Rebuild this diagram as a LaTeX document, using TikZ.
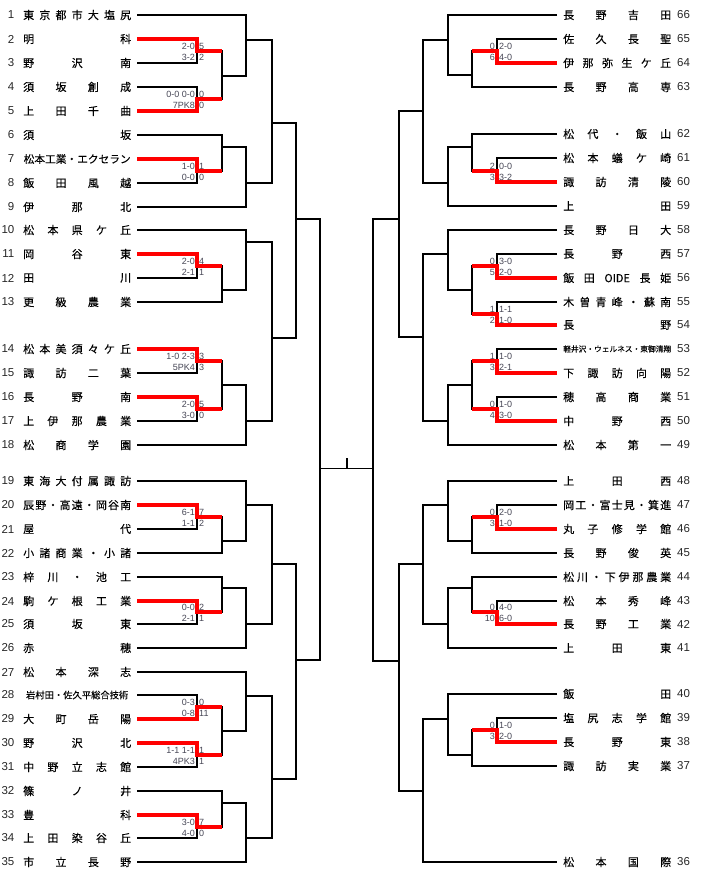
\documentclass[tikz,border=0pt]{standalone}
\usepackage{fontspec}
\setmainfont{Liberation Sans}
\newfontfamily\jfont[FakeBold=0.15]{Noto Sans CJK JP}
\definecolor{scoregray}{RGB}{70,70,85}
\newcommand{\teamname}[1]{\makebox[108pt]{\spaceskip=0pt plus 1fill\relax #1}}

\begin{document}
\begin{tikzpicture}[
  x=1pt, y=-1pt,
  num/.style={font=\fontsize{11.5}{12}\selectfont, text=black!85, inner sep=0pt},
  lnum/.style={num, anchor=east},
  rnum/.style={num, anchor=west},
  team/.style={font=\fontsize{11}{12}\selectfont\jfont, text=black, inner sep=0pt, anchor=west},
  bk/.style={line width=1.2pt},
  win/.style={draw=red, line width=4pt},
  score/.style={font=\fontsize{9}{10}\selectfont, text=scoregray, inner sep=0pt},
  hl/.style={score, anchor=east, xshift=-2pt},
  hr/.style={score, anchor=west, xshift=2pt},
  hi/.style={yshift=5pt},
  lo/.style={yshift=-6pt}
]
\useasboundingbox (0,0) rectangle (702,880);

% ---- Left teams ----
\node[lnum] (k1) at (14.5,15) {1}; \node[team] (n1) at (23,15) {\teamname{東 京 都 市 大 塩 尻}}; \coordinate (p1) at (137,15);
\node[lnum] (k2) at (14.5,39) {2}; \node[team] (n2) at (23,39) {\teamname{明 科}}; \coordinate (p2) at (137,39);
\node[lnum] (k3) at (14.5,63) {3}; \node[team] (n3) at (23,63) {\teamname{野 沢 南}}; \coordinate (p3) at (137,63);
\node[lnum] (k4) at (14.5,87) {4}; \node[team] (n4) at (23,87) {\teamname{須 坂 創 成}}; \coordinate (p4) at (137,87);
\node[lnum] (k5) at (14.5,111) {5}; \node[team] (n5) at (23,111) {\teamname{上 田 千 曲}}; \coordinate (p5) at (137,111);
\node[lnum] (k6) at (14.5,135) {6}; \node[team] (n6) at (23,135) {\teamname{須 坂}}; \coordinate (p6) at (137,135);
\node[lnum] (k7) at (14.5,159) {7}; \node[team] (n7) at (23,159) {\teamname{\fontsize{10.7}{12}\selectfont 松本工業・エクセラン}}; \coordinate (p7) at (137,159);
\node[lnum] (k8) at (14.5,183) {8}; \node[team] (n8) at (23,183) {\teamname{飯 田 風 越}}; \coordinate (p8) at (137,183);
\node[lnum] (k9) at (14.5,207) {9}; \node[team] (n9) at (23,207) {\teamname{伊 那 北}}; \coordinate (p9) at (137,207);
\node[lnum] (k10) at (14.5,230) {10}; \node[team] (n10) at (23,230) {\teamname{松 本 県 ケ 丘}}; \coordinate (p10) at (137,230);
\node[lnum] (k11) at (14.5,254) {11}; \node[team] (n11) at (23,254) {\teamname{岡 谷 東}}; \coordinate (p11) at (137,254);
\node[lnum] (k12) at (14.5,278) {12}; \node[team] (n12) at (23,278) {\teamname{田 川}}; \coordinate (p12) at (137,278);
\node[lnum] (k13) at (14.5,302) {13}; \node[team] (n13) at (23,302) {\teamname{更 級 農 業}}; \coordinate (p13) at (137,302);
\node[lnum] (k14) at (14.5,349) {14}; \node[team] (n14) at (23,349) {\teamname{松 本 美 須 々 ケ 丘}}; \coordinate (p14) at (137,349);
\node[lnum] (k15) at (14.5,373) {15}; \node[team] (n15) at (23,373) {\teamname{諏 訪 二 葉}}; \coordinate (p15) at (137,373);
\node[lnum] (k16) at (14.5,397) {16}; \node[team] (n16) at (23,397) {\teamname{長 野 南}}; \coordinate (p16) at (137,397);
\node[lnum] (k17) at (14.5,421) {17}; \node[team] (n17) at (23,421) {\teamname{上 伊 那 農 業}}; \coordinate (p17) at (137,421);
\node[lnum] (k18) at (14.5,445) {18}; \node[team] (n18) at (23,445) {\teamname{松 商 学 園}}; \coordinate (p18) at (137,445);
\node[lnum] (k19) at (14.5,481) {19}; \node[team] (n19) at (23,481) {\teamname{東 海 大 付 属 諏 訪}}; \coordinate (p19) at (137,481);
\node[lnum] (k20) at (14.5,505) {20}; \node[team] (n20) at (23,505) {\teamname{辰 野 ・ 高 遠 ・ 岡 谷 南}}; \coordinate (p20) at (137,505);
\node[lnum] (k21) at (14.5,529) {21}; \node[team] (n21) at (23,529) {\teamname{屋 代}}; \coordinate (p21) at (137,529);
\node[lnum] (k22) at (14.5,553) {22}; \node[team] (n22) at (23,553) {\teamname{小 諸 商 業 ・ 小 諸}}; \coordinate (p22) at (137,553);
\node[lnum] (k23) at (14.5,577) {23}; \node[team] (n23) at (23,577) {\teamname{梓 川 ・ 池 工}}; \coordinate (p23) at (137,577);
\node[lnum] (k24) at (14.5,601) {24}; \node[team] (n24) at (23,601) {\teamname{駒 ケ 根 工 業}}; \coordinate (p24) at (137,601);
\node[lnum] (k25) at (14.5,624) {25}; \node[team] (n25) at (23,624) {\teamname{須 坂 東}}; \coordinate (p25) at (137,624);
\node[lnum] (k26) at (14.5,648) {26}; \node[team] (n26) at (23,648) {\teamname{赤 穂}}; \coordinate (p26) at (137,648);
\node[lnum] (k27) at (14.5,672) {27}; \node[team] (n27) at (23,672) {\teamname{松 本 深 志}}; \coordinate (p27) at (137,672);
\node[lnum] (k28) at (14.5,695) {28}; \node[team] (n28) at (23,695) {\teamname{\fontsize{9.3}{11}\selectfont 岩村田・佐久平総合技術}}; \coordinate (p28) at (137,695);
\node[lnum] (k29) at (14.5,719) {29}; \node[team] (n29) at (23,719) {\teamname{大 町 岳 陽}}; \coordinate (p29) at (137,719);
\node[lnum] (k30) at (14.5,743) {30}; \node[team] (n30) at (23,743) {\teamname{野 沢 北}}; \coordinate (p30) at (137,743);
\node[lnum] (k31) at (14.5,767) {31}; \node[team] (n31) at (23,767) {\teamname{中 野 立 志 館}}; \coordinate (p31) at (137,767);
\node[lnum] (k32) at (14.5,791) {32}; \node[team] (n32) at (23,791) {\teamname{篠 ノ 井}}; \coordinate (p32) at (137,791);
\node[lnum] (k33) at (14.5,815) {33}; \node[team] (n33) at (23,815) {\teamname{豊 科}}; \coordinate (p33) at (137,815);
\node[lnum] (k34) at (14.5,838) {34}; \node[team] (n34) at (23,838) {\teamname{上 田 染 谷 丘}}; \coordinate (p34) at (137,838);
\node[lnum] (k35) at (14.5,862) {35}; \node[team] (n35) at (23,862) {\teamname{市 立 長 野}}; \coordinate (p35) at (137,862);

% ---- Right teams ----
\node[rnum] (k66) at (677,15) {66}; \node[team] (n66) at (563,15) {\teamname{長 野 吉 田}}; \coordinate (p66) at (557,15);
\node[rnum] (k65) at (677,39) {65}; \node[team] (n65) at (563,39) {\teamname{佐 久 長 聖}}; \coordinate (p65) at (557,39);
\node[rnum] (k64) at (677,63) {64}; \node[team] (n64) at (563,63) {\teamname{伊 那 弥 生 ケ 丘}}; \coordinate (p64) at (557,63);
\node[rnum] (k63) at (677,87) {63}; \node[team] (n63) at (563,87) {\teamname{長 野 高 専}}; \coordinate (p63) at (557,87);
\node[rnum] (k62) at (677,134) {62}; \node[team] (n62) at (563,134) {\teamname{松 代 ・ 飯 山}}; \coordinate (p62) at (557,134);
\node[rnum] (k61) at (677,158) {61}; \node[team] (n61) at (563,158) {\teamname{松 本 蟻 ケ 崎}}; \coordinate (p61) at (557,158);
\node[rnum] (k60) at (677,182) {60}; \node[team] (n60) at (563,182) {\teamname{諏 訪 清 陵}}; \coordinate (p60) at (557,182);
\node[rnum] (k59) at (677,206) {59}; \node[team] (n59) at (563,206) {\teamname{上 田}}; \coordinate (p59) at (557,206);
\node[rnum] (k58) at (677,230) {58}; \node[team] (n58) at (563,230) {\teamname{長 野 日 大}}; \coordinate (p58) at (557,230);
\node[rnum] (k57) at (677,254) {57}; \node[team] (n57) at (563,254) {\teamname{長 野 西}}; \coordinate (p57) at (557,254);
\node[rnum] (k56) at (677,278) {56}; \node[team] (n56) at (563,278) {\teamname{飯 田 OIDE 長 姫}}; \coordinate (p56) at (557,278);
\node[rnum] (k55) at (677,302) {55}; \node[team] (n55) at (563,302) {\teamname{木 曽 青 峰 ・ 蘇 南}}; \coordinate (p55) at (557,302);
\node[rnum] (k54) at (677,325) {54}; \node[team] (n54) at (563,325) {\teamname{長 野}}; \coordinate (p54) at (557,325);
\node[rnum] (k53) at (677,349) {53}; \node[team] (n53) at (563,349) {\teamname{\fontsize{7.7}{9}\selectfont 軽井沢・ウェルネス・東御清翔}}; \coordinate (p53) at (557,349);
\node[rnum] (k52) at (677,373) {52}; \node[team] (n52) at (563,373) {\teamname{下 諏 訪 向 陽}}; \coordinate (p52) at (557,373);
\node[rnum] (k51) at (677,397) {51}; \node[team] (n51) at (563,397) {\teamname{穂 高 商 業}}; \coordinate (p51) at (557,397);
\node[rnum] (k50) at (677,421) {50}; \node[team] (n50) at (563,421) {\teamname{中 野 西}}; \coordinate (p50) at (557,421);
\node[rnum] (k49) at (677,445) {49}; \node[team] (n49) at (563,445) {\teamname{松 本 第 一}}; \coordinate (p49) at (557,445);
\node[rnum] (k48) at (677,481) {48}; \node[team] (n48) at (563,481) {\teamname{上 田 西}}; \coordinate (p48) at (557,481);
\node[rnum] (k47) at (677,505) {47}; \node[team] (n47) at (563,505) {\teamname{岡 工 ・ 富 士 見 ・ 箕 進}}; \coordinate (p47) at (557,505);
\node[rnum] (k46) at (677,529) {46}; \node[team] (n46) at (563,529) {\teamname{丸 子 修 学 館}}; \coordinate (p46) at (557,529);
\node[rnum] (k45) at (677,553) {45}; \node[team] (n45) at (563,553) {\teamname{長 野 俊 英}}; \coordinate (p45) at (557,553);
\node[rnum] (k44) at (677,577) {44}; \node[team] (n44) at (563,577) {\teamname{松 川 ・ 下 伊 那 農 業}}; \coordinate (p44) at (557,577);
\node[rnum] (k43) at (677,601) {43}; \node[team] (n43) at (563,601) {\teamname{松 本 秀 峰}}; \coordinate (p43) at (557,601);
\node[rnum] (k42) at (677,624) {42}; \node[team] (n42) at (563,624) {\teamname{長 野 工 業}}; \coordinate (p42) at (557,624);
\node[rnum] (k41) at (677,648) {41}; \node[team] (n41) at (563,648) {\teamname{上 田 東}}; \coordinate (p41) at (557,648);
\node[rnum] (k40) at (677,694) {40}; \node[team] (n40) at (563,694) {\teamname{飯 田}}; \coordinate (p40) at (557,694);
\node[rnum] (k39) at (677,718) {39}; \node[team] (n39) at (563,718) {\teamname{塩 尻 志 学 館}}; \coordinate (p39) at (557,718);
\node[rnum] (k38) at (677,742) {38}; \node[team] (n38) at (563,742) {\teamname{長 野 東}}; \coordinate (p38) at (557,742);
\node[rnum] (k37) at (677,766) {37}; \node[team] (n37) at (563,766) {\teamname{諏 訪 実 業}}; \coordinate (p37) at (557,766);
\node[rnum] (k36) at (677,862) {36}; \node[team] (n36) at (563,862) {\teamname{松 本 国 際}}; \coordinate (p36) at (557,862);

% ---- Left bracket joints ----
\coordinate (a23) at (197,51);   \coordinate (a45) at (197,99);
\coordinate (a78) at (197,171);  \coordinate (a1112) at (197,266);
\coordinate (a1415) at (197,361); \coordinate (a1617) at (197,409);
\coordinate (a2021) at (197,517); \coordinate (a2425) at (197,612);
\coordinate (a2829) at (197,707); \coordinate (a3031) at (197,755);
\coordinate (a3334) at (197,827);
\coordinate (b2) at (222,76);    \coordinate (b6) at (222,147);
\coordinate (b11) at (222,290);  \coordinate (b14) at (222,385);
\coordinate (b20) at (222,541);  \coordinate (b23) at (222,588);
\coordinate (b28) at (222,731);  \coordinate (b32) at (222,803);
\coordinate (c1) at (246,40);    \coordinate (c6) at (246,183);
\coordinate (c10) at (246,242);  \coordinate (c14) at (246,421);
\coordinate (c19) at (246,505);  \coordinate (c23) at (246,624);
\coordinate (c27) at (246,696);  \coordinate (c32) at (246,838);
\coordinate (d1) at (272,123);   \coordinate (d10) at (272,338);
\coordinate (d19) at (272,564);  \coordinate (d27) at (272,779);
\coordinate (e1) at (296,219);   \coordinate (e19) at (296,660);
\coordinate (fL) at (320,468);

% ---- Right bracket joints ----
\coordinate (ra6564) at (497,51);  \coordinate (ra6160) at (497,171);
\coordinate (ra5756) at (497,266); \coordinate (ra5554) at (497,314);
\coordinate (ra5352) at (497,361); \coordinate (ra5150) at (497,409);
\coordinate (ra4746) at (497,517); \coordinate (ra4342) at (497,612);
\coordinate (ra3938) at (497,730);
\coordinate (rb64) at (472,75);   \coordinate (rb62) at (472,147);
\coordinate (rb56) at (472,290);  \coordinate (rb52) at (472,385);
\coordinate (rb46) at (472,541);  \coordinate (rb44) at (472,588);
\coordinate (rb38) at (472,755);
\coordinate (rc66) at (448,40);   \coordinate (rc62) at (448,183);
\coordinate (rc58) at (448,254);  \coordinate (rc52) at (448,421);
\coordinate (rc48) at (448,505);  \coordinate (rc44) at (448,624);
\coordinate (rc40) at (448,719);
\coordinate (rd66) at (423,111);  \coordinate (rd58) at (423,337);
\coordinate (rd48) at (423,564);  \coordinate (rd40) at (423,791);
\coordinate (re66) at (399,219);  \coordinate (re48) at (399,661);
\coordinate (fR) at (373,468);
\coordinate (champ) at (347,458);

% ---- Left brackets ----
\draw[bk] (p2) -- (p2 -| a23) -- (p3 -| a23) -- (p3);
\draw[bk] (p4) -- (p4 -| a45) -- (p5 -| a45) -- (p5);
\draw[bk] (p7) -- (p7 -| a78) -- (p8 -| a78) -- (p8);
\draw[bk] (p11) -- (p11 -| a1112) -- (p12 -| a1112) -- (p12);
\draw[bk] (p14) -- (p14 -| a1415) -- (p15 -| a1415) -- (p15);
\draw[bk] (p16) -- (p16 -| a1617) -- (p17 -| a1617) -- (p17);
\draw[bk] (p20) -- (p20 -| a2021) -- (p21 -| a2021) -- (p21);
\draw[bk] (p24) -- (p24 -| a2425) -- (p25 -| a2425) -- (p25);
\draw[bk] (p28) -- (p28 -| a2829) -- (p29 -| a2829) -- (p29);
\draw[bk] (p30) -- (p30 -| a3031) -- (p31 -| a3031) -- (p31);
\draw[bk] (p33) -- (p33 -| a3334) -- (p34 -| a3334) -- (p34);

\draw[bk] (a23) -- (a23 -| b2) -- (a45 -| b2) -- (a45);
\draw[bk] (p6) -- (p6 -| b6) -- (a78 -| b6) -- (a78);
\draw[bk] (a1112) -- (a1112 -| b11) -- (p13 -| b11) -- (p13);
\draw[bk] (a1415) -- (a1415 -| b14) -- (a1617 -| b14) -- (a1617);
\draw[bk] (a2021) -- (a2021 -| b20) -- (p22 -| b20) -- (p22);
\draw[bk] (p23) -- (p23 -| b23) -- (a2425 -| b23) -- (a2425);
\draw[bk] (a2829) -- (a2829 -| b28) -- (a3031 -| b28) -- (a3031);
\draw[bk] (p32) -- (p32 -| b32) -- (a3334 -| b32) -- (a3334);

\draw[bk] (p1) -- (p1 -| c1) -- (b2 -| c1) -- (b2);
\draw[bk] (b6) -- (b6 -| c6) -- (p9 -| c6) -- (p9);
\draw[bk] (p10) -- (p10 -| c10) -- (b11 -| c10) -- (b11);
\draw[bk] (b14) -- (b14 -| c14) -- (p18 -| c14) -- (p18);
\draw[bk] (p19) -- (p19 -| c19) -- (b20 -| c19) -- (b20);
\draw[bk] (b23) -- (b23 -| c23) -- (p26 -| c23) -- (p26);
\draw[bk] (p27) -- (p27 -| c27) -- (b28 -| c27) -- (b28);
\draw[bk] (b32) -- (b32 -| c32) -- (p35 -| c32) -- (p35);

\draw[bk] (c1) -- (c1 -| d1) -- (c6 -| d1) -- (c6);
\draw[bk] (c10) -- (c10 -| d10) -- (c14 -| d10) -- (c14);
\draw[bk] (c19) -- (c19 -| d19) -- (c23 -| d19) -- (c23);
\draw[bk] (c27) -- (c27 -| d27) -- (c32 -| d27) -- (c32);

\draw[bk] (d1) -- (d1 -| e1) -- (d10 -| e1) -- (d10);
\draw[bk] (d19) -- (d19 -| e19) -- (d27 -| e19) -- (d27);

\draw[bk] (e1) -- (e1 -| fL) -- (e19 -| fL) -- (e19);

% ---- Right brackets ----
\draw[bk] (p65) -- (p65 -| ra6564) -- (p64 -| ra6564) -- (p64);
\draw[bk] (p61) -- (p61 -| ra6160) -- (p60 -| ra6160) -- (p60);
\draw[bk] (p57) -- (p57 -| ra5756) -- (p56 -| ra5756) -- (p56);
\draw[bk] (p55) -- (p55 -| ra5554) -- (p54 -| ra5554) -- (p54);
\draw[bk] (p53) -- (p53 -| ra5352) -- (p52 -| ra5352) -- (p52);
\draw[bk] (p51) -- (p51 -| ra5150) -- (p50 -| ra5150) -- (p50);
\draw[bk] (p47) -- (p47 -| ra4746) -- (p46 -| ra4746) -- (p46);
\draw[bk] (p43) -- (p43 -| ra4342) -- (p42 -| ra4342) -- (p42);
\draw[bk] (p39) -- (p39 -| ra3938) -- (p38 -| ra3938) -- (p38);

\draw[bk] (ra6564) -- (ra6564 -| rb64) -- (p63 -| rb64) -- (p63);
\draw[bk] (p62) -- (p62 -| rb62) -- (ra6160 -| rb62) -- (ra6160);
\draw[bk] (ra5756) -- (ra5756 -| rb56) -- (ra5554 -| rb56) -- (ra5554);
\draw[bk] (ra5352) -- (ra5352 -| rb52) -- (ra5150 -| rb52) -- (ra5150);
\draw[bk] (ra4746) -- (ra4746 -| rb46) -- (p45 -| rb46) -- (p45);
\draw[bk] (p44) -- (p44 -| rb44) -- (ra4342 -| rb44) -- (ra4342);
\draw[bk] (ra3938) -- (ra3938 -| rb38) -- (p37 -| rb38) -- (p37);

\draw[bk] (p66) -- (p66 -| rc66) -- (rb64 -| rc66) -- (rb64);
\draw[bk] (rb62) -- (rb62 -| rc62) -- (p59 -| rc62) -- (p59);
\draw[bk] (p58) -- (p58 -| rc58) -- (rb56 -| rc58) -- (rb56);
\draw[bk] (rb52) -- (rb52 -| rc52) -- (p49 -| rc52) -- (p49);
\draw[bk] (p48) -- (p48 -| rc48) -- (rb46 -| rc48) -- (rb46);
\draw[bk] (rb44) -- (rb44 -| rc44) -- (p41 -| rc44) -- (p41);
\draw[bk] (p40) -- (p40 -| rc40) -- (rb38 -| rc40) -- (rb38);

\draw[bk] (rc66) -- (rc66 -| rd66) -- (rc62 -| rd66) -- (rc62);
\draw[bk] (rc58) -- (rc58 -| rd58) -- (rc52 -| rd58) -- (rc52);
\draw[bk] (rc48) -- (rc48 -| rd48) -- (rc44 -| rd48) -- (rc44);
\draw[bk] (rc40) -- (rc40 -| rd40) -- (p36 -| rd40) -- (p36);

\draw[bk] (rd66) -- (rd66 -| re66) -- (rd58 -| re66) -- (rd58);
\draw[bk] (rd48) -- (rd48 -| re48) -- (rd40 -| re48) -- (rd40);

\draw[bk] (re66) -- (re66 -| fR) -- (re48 -| fR) -- (re48);

% ---- Final ----
\draw[line width=0.8pt] (fL) -- (fR);
\draw[line width=1.2pt] (champ) -- (champ |- fL);

% ---- Winners ----
\draw[win] (p2) -- (p2 -| a23) -- (a23) -- (a23 -| b2);
\draw[win] (p5) -- (p5 -| a45) -- (a45) -- (a45 -| b2);
\draw[win] (p7) -- (p7 -| a78) -- (a78) -- (a78 -| b6);
\draw[win] (p11) -- (p11 -| a1112) -- (a1112) -- (a1112 -| b11);
\draw[win] (p14) -- (p14 -| a1415) -- (a1415) -- (a1415 -| b14);
\draw[win] (p16) -- (p16 -| a1617) -- (a1617) -- (a1617 -| b14);
\draw[win] (p20) -- (p20 -| a2021) -- (a2021) -- (a2021 -| b20);
\draw[win] (p24) -- (p24 -| a2425) -- (a2425) -- (a2425 -| b23);
\draw[win] (p29) -- (p29 -| a2829) -- (a2829) -- (a2829 -| b28);
\draw[win] (p30) -- (p30 -| a3031) -- (a3031) -- (a3031 -| b28);
\draw[win] (p33) -- (p33 -| a3334) -- (a3334) -- (a3334 -| b32);

\draw[win] (p64) -- (p64 -| ra6564) -- (ra6564) -- (ra6564 -| rb64);
\draw[win] (p60) -- (p60 -| ra6160) -- (ra6160) -- (ra6160 -| rb62);
\draw[win] (p56) -- (p56 -| ra5756) -- (ra5756) -- (ra5756 -| rb56);
\draw[win] (p54) -- (p54 -| ra5554) -- (ra5554) -- (ra5554 -| rb56);
\draw[win] (p52) -- (p52 -| ra5352) -- (ra5352) -- (ra5352 -| rb52);
\draw[win] (p50) -- (p50 -| ra5150) -- (ra5150) -- (ra5150 -| rb52);
\draw[win] (p46) -- (p46 -| ra4746) -- (ra4746) -- (ra4746 -| rb46);
\draw[win] (p42) -- (p42 -| ra4342) -- (ra4342) -- (ra4342 -| rb44);
\draw[win] (p38) -- (p38 -| ra3938) -- (ra3938) -- (ra3938 -| rb38);

% ---- Scores, left ----
\node[hl, hi] (s23a) at (a23) {2-0};   \node[hl, lo] (s23b) at (a23) {3-2};
\node[hr, hi] (s23c) at (a23) {5};     \node[hr, lo] (s23d) at (a23) {2};
\node[hl, hi] (s45a) at (a45) {0-0 0-0}; \node[hl, lo] (s45b) at (a45) {7PK8};
\node[hr, hi] (s45c) at (a45) {0};     \node[hr, lo] (s45d) at (a45) {0};
\node[hl, hi] (s78a) at (a78) {1-0};   \node[hl, lo] (s78b) at (a78) {0-0};
\node[hr, hi] (s78c) at (a78) {1};     \node[hr, lo] (s78d) at (a78) {0};
\node[hl, hi] (s1112a) at (a1112) {2-0}; \node[hl, lo] (s1112b) at (a1112) {2-1};
\node[hr, hi] (s1112c) at (a1112) {4};   \node[hr, lo] (s1112d) at (a1112) {1};
\node[hl, hi] (s1415a) at (a1415) {1-0 2-3}; \node[hl, lo] (s1415b) at (a1415) {5PK4};
\node[hr, hi] (s1415c) at (a1415) {3};   \node[hr, lo] (s1415d) at (a1415) {3};
\node[hl, hi] (s1617a) at (a1617) {2-0}; \node[hl, lo] (s1617b) at (a1617) {3-0};
\node[hr, hi] (s1617c) at (a1617) {5};   \node[hr, lo] (s1617d) at (a1617) {0};
\node[hl, hi] (s2021a) at (a2021) {6-1}; \node[hl, lo] (s2021b) at (a2021) {1-1};
\node[hr, hi] (s2021c) at (a2021) {7};   \node[hr, lo] (s2021d) at (a2021) {2};
\node[hl, hi] (s2425a) at (a2425) {0-0}; \node[hl, lo] (s2425b) at (a2425) {2-1};
\node[hr, hi] (s2425c) at (a2425) {2};   \node[hr, lo] (s2425d) at (a2425) {1};
\node[hl, hi] (s2829a) at (a2829) {0-3}; \node[hl, lo] (s2829b) at (a2829) {0-8};
\node[hr, hi] (s2829c) at (a2829) {0};   \node[hr, lo] (s2829d) at (a2829) {11};
\node[hl, hi] (s3031a) at (a3031) {1-1 1-1}; \node[hl, lo] (s3031b) at (a3031) {4PK3};
\node[hr, hi] (s3031c) at (a3031) {1};   \node[hr, lo] (s3031d) at (a3031) {1};
\node[hl, hi] (s3334a) at (a3334) {3-0}; \node[hl, lo] (s3334b) at (a3334) {4-0};
\node[hr, hi] (s3334c) at (a3334) {7};   \node[hr, lo] (s3334d) at (a3334) {0};

% ---- Scores, right ----
\node[hl, hi] (r6564a) at (ra6564) {0};  \node[hl, lo] (r6564b) at (ra6564) {6};
\node[hr, hi] (r6564c) at (ra6564) {2-0}; \node[hr, lo] (r6564d) at (ra6564) {4-0};
\node[hl, hi] (r6160a) at (ra6160) {2};  \node[hl, lo] (r6160b) at (ra6160) {3};
\node[hr, hi] (r6160c) at (ra6160) {0-0}; \node[hr, lo] (r6160d) at (ra6160) {3-2};
\node[hl, hi] (r5756a) at (ra5756) {0};  \node[hl, lo] (r5756b) at (ra5756) {5};
\node[hr, hi] (r5756c) at (ra5756) {3-0}; \node[hr, lo] (r5756d) at (ra5756) {2-0};
\node[hl, hi] (r5554a) at (ra5554) {1};  \node[hl, lo] (r5554b) at (ra5554) {2};
\node[hr, hi] (r5554c) at (ra5554) {1-1}; \node[hr, lo] (r5554d) at (ra5554) {1-0};
\node[hl, hi] (r5352a) at (ra5352) {1};  \node[hl, lo] (r5352b) at (ra5352) {3};
\node[hr, hi] (r5352c) at (ra5352) {1-0}; \node[hr, lo] (r5352d) at (ra5352) {2-1};
\node[hl, hi] (r5150a) at (ra5150) {0};  \node[hl, lo] (r5150b) at (ra5150) {4};
\node[hr, hi] (r5150c) at (ra5150) {1-0}; \node[hr, lo] (r5150d) at (ra5150) {3-0};
\node[hl, hi] (r4746a) at (ra4746) {0};  \node[hl, lo] (r4746b) at (ra4746) {3};
\node[hr, hi] (r4746c) at (ra4746) {2-0}; \node[hr, lo] (r4746d) at (ra4746) {1-0};
\node[hl, hi] (r4342a) at (ra4342) {0};  \node[hl, lo] (r4342b) at (ra4342) {10};
\node[hr, hi] (r4342c) at (ra4342) {4-0}; \node[hr, lo] (r4342d) at (ra4342) {6-0};
\node[hl, hi] (r3938a) at (ra3938) {0};  \node[hl, lo] (r3938b) at (ra3938) {3};
\node[hr, hi] (r3938c) at (ra3938) {1-0}; \node[hr, lo] (r3938d) at (ra3938) {2-0};

\end{tikzpicture}
\end{document}
